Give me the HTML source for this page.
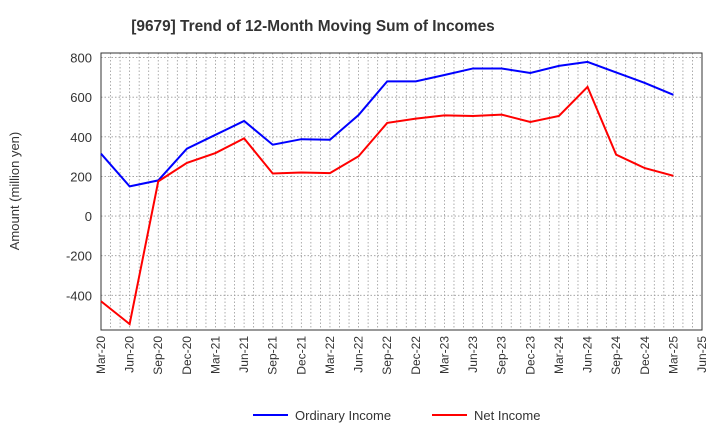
<!DOCTYPE html>
<html><head><meta charset="utf-8"><style>
body{margin:0;background:#fff;font-family:"Liberation Sans",sans-serif;}
svg text{font-family:"Liberation Sans",sans-serif;fill:#333;}
</style></head><body>
<svg width="720" height="440">
<text x="313" y="31" font-size="15.4" font-weight="bold" text-anchor="middle">[9679]  Trend of 12-Month Moving Sum of Incomes</text>
<g id="grid"></g>
<g id="axes"></g>
<g id="series"></g>
<text transform="translate(19,191) rotate(-90)" font-size="13" text-anchor="middle">Amount (million yen)</text>
<g>
<line x1="253" y1="415" x2="288" y2="415" stroke="#0000ff" stroke-width="2"/>
<text x="295" y="420" font-size="13">Ordinary Income</text>
<line x1="432" y1="415" x2="467" y2="415" stroke="#ff0000" stroke-width="2"/>
<text x="474" y="420" font-size="13">Net Income</text>
</g>
</svg>
<script>
const categories=["Mar-20","Jun-20","Sep-20","Dec-20","Mar-21","Jun-21","Sep-21","Dec-21","Mar-22","Jun-22","Sep-22","Dec-22","Mar-23","Jun-23","Sep-23","Dec-23","Mar-24","Jun-24","Sep-24","Dec-24","Mar-25","Jun-25"];
const ordinaryIncome=[315,150,180,340,410,480,360,388,385,510,680,680,712,745,745,722,758,778,725,672,612];
const netIncome=[-430,-545,175,268,318,392,215,220,217,302,470,492,508,505,512,475,505,652,310,242,203];
const yTicks=[-400,-200,0,200,400,600,800];
const L=101,R=702,T=53,B=330,yMin=-575,yMax=823;
const NS="http://www.w3.org/2000/svg";
function X(i){return L+(R-L)*i/(categories.length-1);}
function Y(v){return B-(v-yMin)/(yMax-yMin)*(B-T);}
function mk(p,t,a){const e=document.createElementNS(NS,t);for(const k in a)e.setAttribute(k,a[k]);p.appendChild(e);return e;}
const grid=document.getElementById('grid'),axes=document.getElementById('axes'),ser=document.getElementById('series');
const nm=(categories.length-1)*3;
for(let m=1;m<nm;m++){const x=L+(R-L)*m/nm;const g=mk(grid,'line',{x1:x,x2:x,y1:T,y2:B,stroke:'#999','stroke-width':0.8,'stroke-dasharray':'1.5,2'});

}
yTicks.forEach(v=>{const y=Y(v);const g=mk(grid,'line',{x1:L,x2:R,y1:y,y2:y,stroke:'#999','stroke-width':0.8,'stroke-dasharray':'1.5,2'});


const t=mk(axes,'text',{x:L-9,y:y+5,'font-size':13,'text-anchor':'end'});t.textContent=v;

});
const fr=mk(axes,'rect',{x:L,y:T,width:R-L,height:B-T,fill:'none',stroke:'#333','stroke-width':1});


categories.forEach((c,i)=>{const x=X(i)+4;const t=mk(axes,'text',{x:x,y:B+6,'font-size':12,'text-anchor':'end',transform:`rotate(-90 ${x} ${B+6})`});t.textContent=c;

});
function line(d,col,name){const p=mk(ser,'polyline',{points:d.map((v,i)=>X(i)+','+Y(v)).join(' '),fill:'none',stroke:col,'stroke-width':2});

}
line(ordinaryIncome,'#0000ff','ordinary-income-line');
line(netIncome,'#ff0000','net-income-line');
</script>
</body></html>
